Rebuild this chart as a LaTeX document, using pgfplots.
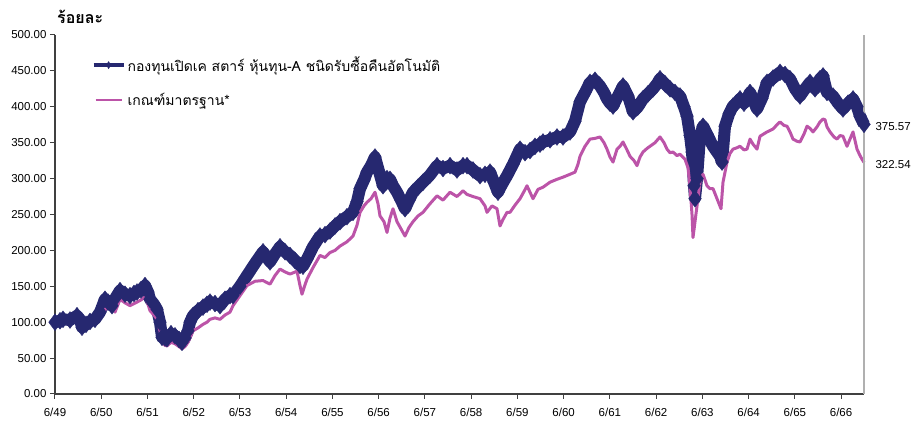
\documentclass[border=0pt]{standalone}
\usepackage{fontspec}
\setmainfont{Liberation Sans}
\newfontfamily\thaifont[Script=Thai]{Loma}
\usepackage{pgfplots}
\usepackage{pgfplotstable}
\pgfplotsset{compat=1.18}
\definecolor{navyk}{RGB}{38,40,112}
\definecolor{pinkb}{RGB}{188,84,168}
\definecolor{axgray}{RGB}{64,64,64}
\definecolor{rgray}{RGB}{176,176,176}

\pgfplotstableread{
x y
55 100
60 102
63 104
70 103
77 109
80 104
82 93
86 97
90 101
95 104
100 114
105 132
108 128
112 123
116 135
120 144
125 139
130 137
134 140
137 142
141 145
145 151
148 142
150 132
154 125
157 118
160 100
162 79
165 78
167 77
171 84
175 81
179 76
182 72
185 78
188 88
190 100
193 109
198 116
203 121
207 125
210 128
215 126
220 123
225 132
230 137
233 137
240 150
247 165
255 182
263 198
267 190
270 184
275 195
280 205
285 198
290 193
295 186
300 179
303 178
307 188
313 205
320 220
325 222
330 227
335 234
340 240
347 247
353 253
357 268
360 286
364 298
367 309
371 318
375 330
379 310
383 290
387 300
390 299
393 290
397 281
401 270
405 258
409 270
413 281
418 288
423 295
430 305
437 318
443 314
450 318
457 312
463 318
467 318
473 312
480 304
485 306
490 309
494 295
498 281
502 292
507 304
513 320
520 341
525 336
530 339
535 345
540 348
543 351
550 354
557 358
563 358
570 365
575 380
580 407
585 420
590 434
595 437
600 429
604 420
607 411
610 405
613 401
618 415
623 429
628 415
633 393
638 400
643 411
648 418
653 425
657 432
660 439
665 432
670 425
675 420
680 415
684 400
687 387
690 360
692 337
694 290
695 272
697 300
700 359
703 373
707 362
713 345
717 337
720 331
722 323
725 373
729 390
733 401
737 406
740 411
744 405
747 411
750 420
753 410
757 397
762 412
767 434
773 440
780 448
785 445
790 439
795 425
800 415
805 425
810 434
815 425
820 439
823 443
827 420
833 415
838 405
843 397
848 405
853 411
857 400
860 387
864 375.57
}\fundtab

\pgfplotstableread{
x y
55 100
63 100
70 99
77 104
82 97
86 98
90 100
95 102
100 107
105 117
110 128
113 120
115 114
120 132
125 127
130 123
137 128
141 131
145 135
148 125
150 116
154 110
157 104
160 88
162 72
165 68
167 67
171 72
175 70
179 66
182 63
185 66
188 72
193 88
198 92
203 97
207 100
210 104
215 106
220 104
225 110
230 114
233 123
240 137
247 151
255 157
263 158
270 153
275 165
280 174
285 170
290 167
297 171
300 151
302 139
305 152
307 160
313 176
320 193
325 190
330 197
335 200
340 206
347 212
353 220
357 235
360 253
364 262
367 267
371 272
375 281
378 265
380 248
384 240
387 225
390 245
393 258
397 240
401 230
405 220
409 232
413 240
418 248
423 253
430 265
437 276
443 270
450 281
457 275
463 283
467 278
473 275
480 272
485 262
487 253
492 262
497 258
500 234
503 243
507 253
510 253
515 263
520 272
524 282
527 290
530 281
533 272
538 285
543 288
550 295
557 299
563 302
570 306
575 309
578 320
580 331
585 345
590 355
595 356
600 358
604 350
607 341
610 330
613 323
617 341
620 345
623 351
627 340
630 331
634 325
637 318
640 330
643 337
647 342
650 345
655 350
660 358
664 350
667 341
670 336
673 337
677 332
680 334
685 327
688 315
690 290
692 250
693 218
695 240
697 262
700 295
703 306
707 290
710 286
713 286
717 272
719 265
721 258
723 295
727 323
730 335
733 341
737 343
740 345
744 340
747 341
750 355
753 348
757 341
760 359
767 365
773 369
777 375
780 379
784 374
787 373
790 365
793 355
797 352
800 351
804 362
807 373
810 370
813 365
817 372
820 379
823 383
825 382
827 372
830 365
834 358
837 355
840 360
843 359
847 345
850 355
853 365
857 341
860 332
862 327
864 322.54
}\benchtab

\begin{document}
\begin{tikzpicture}
\begin{axis}[
  name=ax,
  scale only axis,
  width=809pt, height=359pt,
  xmin=55, xmax=864, ymin=0, ymax=500,
  axis x line*=bottom, axis y line*=left,
  axis line style={axgray, line width=1.2pt},
  xtick={55,101.24,147.48,193.72,239.96,286.2,332.44,378.68,424.92,471.16,517.4,563.64,609.88,656.12,702.36,748.6,794.84,841.08},
  xticklabels={6/49,6/50,6/51,6/52,6/53,6/54,6/55,6/56,6/57,6/58,6/59,6/60,6/61,6/62,6/63,6/64,6/65,6/66},
  xticklabel style={yshift=-6pt},
  ytick={0,50,...,500},
  yticklabel style={/pgf/number format/.cd, fixed, fixed zerofill, precision=2, assume math mode=true},
  tick label style={font=\fontsize{11.5}{13}\selectfont, text=black},
  tick align=outside,
  major tick length=5pt,
  tick style={axgray, line width=1pt},
  clip=false,
  legend style={draw=none, fill=none, at={(0.045,0.945)}, anchor=north west,
    row sep=16pt, font=\thaifont\fontsize{14}{16}\selectfont, inner sep=0pt},
  legend cell align=left,
]
\addplot[navyk, line width=12pt, line join=round, mark=diamond*, mark size=8.5pt, mark options={solid, line width=0.3pt},
  legend image code/.code={
    \draw[navyk, line width=4pt, mark=none] (0pt,0pt) -- (30pt,0pt);
    \path[fill=navyk, draw=none, line width=0pt] (15pt,4pt) -- (17.5pt,0pt) -- (15pt,-4pt) -- (12.5pt,0pt) -- cycle;}]
  table[x=x, y=y] {\fundtab};
\addlegendentry{กองทุนเปิดเค สตาร์ หุ้นทุน-A ชนิดรับซื้อคืนอัตโนมัติ}
\addplot[pinkb, line width=3pt, line join=round, no marks,
  legend image code/.code={
    \draw[pinkb, line width=2.5pt] (2pt,0pt) -- (28pt,0pt);}]
  table[x=x, y=y] {\benchtab};
\addlegendentry{เกณฑ์มาตรฐาน*}
\draw[rgray, line width=1.8pt] (rel axis cs:1,0) -- (rel axis cs:1,1);
\node[anchor=west, font=\fontsize{11.5}{13}\selectfont, xshift=8pt, yshift=-2pt] at (axis cs:864,375.57) {375.57};
\node[anchor=west, font=\fontsize{11.5}{13}\selectfont, xshift=8pt, yshift=-2pt] at (axis cs:864,322.54) {322.54};
\end{axis}
\node[anchor=west, font=\thaifont\bfseries\fontsize{16}{18}\selectfont, inner sep=0pt] at ([xshift=2pt, yshift=18pt]ax.north west) {ร้อยละ};
\path[use as bounding box] ([xshift=-55pt,yshift=-30pt]ax.south west) rectangle ([xshift=53pt,yshift=35pt]ax.north east);
\end{tikzpicture}
\end{document}
